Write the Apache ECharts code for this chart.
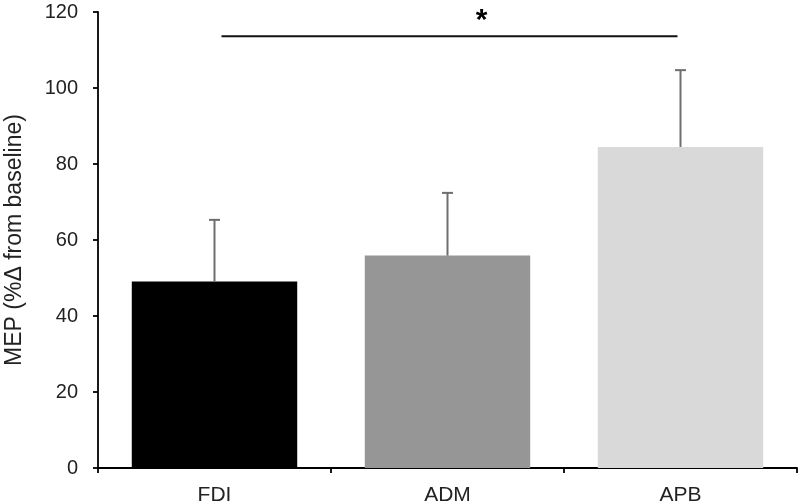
<!DOCTYPE html>
<html>
<head>
<meta charset="utf-8">
<script src="https://cdn.jsdelivr.net/npm/echarts@6/dist/echarts.min.js"></script>
<style>
  html, body { margin: 0; padding: 0; background: #fff; }
  #chart { width: 800px; height: 504px; }
</style>
</head>
<body>
<div id="chart"></div>
<script>
// muscles and values
var muscles = ['FDI', 'ADM', 'APB'];
var meanValues = [49.1, 55.9, 84.5];
var upperError = [65.3, 72.4, 104.7];   // top of the error whisker
var barColors = ['#000000', '#969696', '#d9d9d9'];
var yTicks = [0, 20, 40, 60, 80, 100, 120];
// significance bracket FDI vs APB
var sigLine = [0, 2, 113.6];
var sigMark = '*';

var chart = echarts.init(document.getElementById('chart'));

var fontName = 'Liberation Sans';

var option = {
    animation: false,
    grid: {left: 98, right: 3, top: 12, bottom: 36, containLabel: false, outerBoundsMode: 'none'},
    xAxis: {
        type: 'category',
        data: muscles,
        axisLine: {lineStyle: {color: '#000', width: 1.8}},
        axisTick: {show: true, length: 5, alignWithLabel: false, lineStyle: {color: '#000', width: 1.8}},
        axisLabel: {color: '#222', fontSize: 21, fontFamily: fontName, margin: 17},
        splitLine: {show: false}
    },
    yAxis: {
        type: 'value',
        min: yTicks[0],
        max: yTicks[yTicks.length - 1],
        interval: 20,
        name: 'MEP (%\u0394 from baseline)',
        nameLocation: 'middle',
        nameRotate: 90,
        nameGap: 72,
        nameTextStyle: {color: '#222', fontSize: 23, fontFamily: fontName},
        axisLine: {show: true, lineStyle: {color: '#000', width: 1.8}},
        axisTick: {show: true, length: 5, lineStyle: {color: '#000', width: 1.8}},
        axisLabel: {color: '#222', fontSize: 20, fontFamily: fontName, margin: 20},
        splitLine: {show: false}
    },
    series: [
        {
            type: 'bar',
            barCategoryGap: '29%',
            data: meanValues.map(function (v, i) {
                return {value: v, itemStyle: {color: barColors[i]}};
            }),
            z: 2
        },
        {
            // upper error bars
            type: 'custom',
            z: 3,
            data: meanValues.map(function (v, i) { return [i, v, upperError[i]]; }),
            renderItem: function (params, api) {
                var base = api.coord([api.value(0), api.value(1)]);
                var top = api.coord([api.value(0), api.value(2)]);
                var half = 5.5;
                var style = {stroke: '#6e6e6e', lineWidth: 2};
                return {
                    type: 'group',
                    children: [
                        {type: 'line', shape: {x1: base[0], y1: base[1], x2: top[0], y2: top[1]}, style: style},
                        {type: 'line', shape: {x1: top[0] - half, y1: top[1], x2: top[0] + half, y2: top[1]}, style: style}
                    ]
                };
            }
        },
        {
            // significance line with star
            type: 'custom',
            z: 4,
            data: [sigLine],
            renderItem: function (params, api) {
                var p1 = api.coord([api.value(0), api.value(2)]);
                var p2 = api.coord([api.value(1), api.value(2)]);
                var x1 = p1[0] + 7, x2 = p2[0] - 3;
                return {
                    type: 'group',
                    children: [
                        {type: 'line', shape: {x1: x1, y1: p1[1], x2: x2, y2: p2[1]}, style: {stroke: '#111', lineWidth: 2}},
                        {type: 'text', style: {
                            text: sigMark, x: (x1 + x2) / 2 + 32, y: p1[1] - 16,
                            align: 'center', verticalAlign: 'middle',
                            font: 'bold 30px ' + fontName, fill: '#000'
                        }}
                    ]
                };
            }
        }
    ]
};

chart.setOption(option);
</script>
</body>
</html>
